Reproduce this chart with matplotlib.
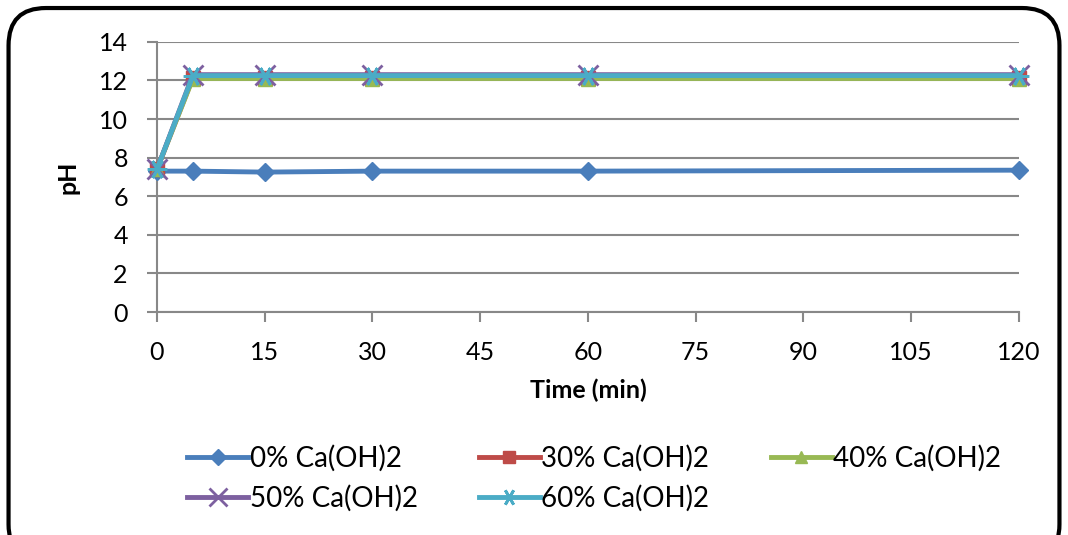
import matplotlib.pyplot as plt
from matplotlib.patches import FancyBboxPatch

plt.rcParams['font.family'] = ['Lato', 'DejaVu Sans']

time_min = [0, 5, 15, 30, 60, 120]
ph_0 = [7.3, 7.3, 7.25, 7.3, 7.3, 7.35]
ph_30 = [7.4, 12.15, 12.15, 12.15, 12.15, 12.15]
ph_40 = [7.4, 12.1, 12.1, 12.1, 12.1, 12.1]
ph_50 = [7.4, 12.3, 12.3, 12.3, 12.3, 12.3]
ph_60 = [7.4, 12.25, 12.25, 12.25, 12.25, 12.25]

labels = ['0% Ca(OH)2', '30% Ca(OH)2', '40% Ca(OH)2', '50% Ca(OH)2', '60% Ca(OH)2']
colors = ['#4A7EBB', '#BE4B48', '#98B954', '#7D60A0', '#4BACC6']
markers = ['D', 's', '^', 'x', (6, 2, 90)]
sizes = [9, 10, 10, 15, 14]

fig = plt.figure(figsize=(10.68, 5.35), dpi=100)
ax = fig.add_axes([0.147, 0.4168, 0.807, 0.505])

# rounded frame around the chart
frame = FancyBboxPatch((0.008, -0.05), 0.984, 1.035, boxstyle='round,pad=0,rounding_size=0.035',
                       transform=fig.transFigure, facecolor='none', edgecolor='black',
                       linewidth=3, mutation_aspect=2.0)
fig.patches.append(frame)

lines = []
for ys, lab, c, m, s in zip([ph_0, ph_30, ph_40, ph_50, ph_60], labels, colors, markers, sizes):
    ln, = ax.plot(time_min, ys, color=c, marker=m, markersize=s, linewidth=3.5, label=lab,
                  markeredgewidth=2 if m == 'x' or isinstance(m, tuple) else 1, markeredgecolor=c,
                  clip_on=False, zorder=3)
    lines.append(ln)

ax.set_xlim(0, 120)
ax.set_ylim(0, 14)
ax.set_xticks(range(0, 121, 15))
ax.set_yticks(range(0, 15, 2))
ax.grid(axis='y', color='#888888', linewidth=1.5)
ax.set_axisbelow(True)
for side in ['top', 'right']:
    ax.spines[side].set_visible(False)
for side in ['left', 'bottom']:
    ax.spines[side].set_color('#888888')
    ax.spines[side].set_linewidth(1.5)
ax.tick_params(axis='both', colors='#888888', labelcolor='black', labelsize=18, width=1.5, length=7)
ax.tick_params(axis='x', pad=14)
ax.tick_params(axis='y', pad=14)
ax.set_xlabel('Time (min)', fontsize=18, fontweight='bold', labelpad=10)
ax.set_ylabel('pH', fontsize=18, fontweight='bold', labelpad=14)

# legend fills row by row: 0%, 30%, 40% / 50%, 60%
order = [0, 3, 1, 4, 2]
fig.legend([lines[i] for i in order], [labels[i] for i in order],
           loc='upper left', bbox_to_anchor=(0.165, 0.19), ncol=3, frameon=False,
           fontsize=20, handlelength=2.2, columnspacing=2.2, handletextpad=0.05,
           labelspacing=0.5, borderaxespad=0, markerscale=0.85)

fig.savefig('out.png', dpi=100)
